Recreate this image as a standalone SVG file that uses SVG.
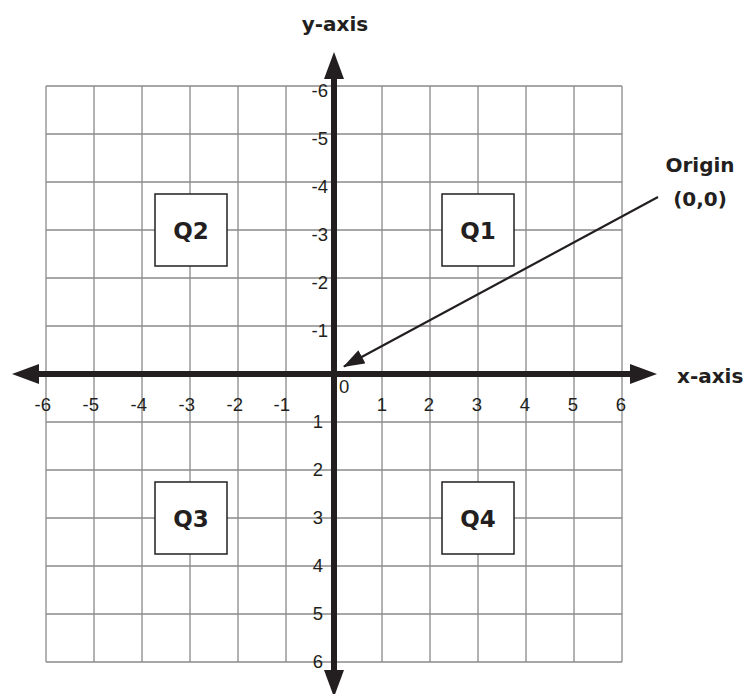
<svg xmlns="http://www.w3.org/2000/svg" width="747" height="694" viewBox="0 0 747 694">
<style>
.grid{stroke:#8a8a8a;stroke-width:1.3;fill:none}
.axis{stroke:#231f20;stroke-width:6;fill:none}
.pointer{stroke:#231f20;stroke-width:2.2;fill:none}
.lbl{font-family:"DejaVu Sans",sans-serif;font-weight:bold;font-size:20px;fill:#231f20}
.q{font-family:"DejaVu Sans",sans-serif;font-weight:bold;font-size:23px;fill:#231f20;text-anchor:middle}
.tick{font-family:"Liberation Sans",Arial,sans-serif;font-size:18.5px;fill:#231f20}
.box{fill:#fff;stroke:#231f20;stroke-width:1.5}
</style>
<defs>
<marker id="axhead" markerUnits="userSpaceOnUse" markerWidth="28" markerHeight="22" refX="0" refY="10" orient="auto-start-reverse" viewBox="0 0 28 20">
<path d="M0,0 L27,10 L0,20 z" fill="#231f20"/>
</marker>
<marker id="ptrhead" markerUnits="userSpaceOnUse" markerWidth="22" markerHeight="15" refX="19" refY="7" orient="auto" viewBox="0 0 20 14">
<path d="M0,0 L20,7 L0,14 z" fill="#231f20"/>
</marker>
</defs>
<rect width="747" height="694" fill="#fff"/>
<g id="grid">
<path class="grid" d="M46,86V662M94,86V662M142,86V662M190,86V662M238,86V662M286,86V662M382,86V662M430,86V662M478,86V662M526,86V662M574,86V662M622,86V662M46,86H622M46,134H622M46,182H622M46,230H622M46,278H622M46,326H622M46,422H622M46,470H622M46,518H622M46,566H622M46,614H622M46,662H622"/>
</g>
<g id="connectors">
<line class="axis" x1="334" y1="670" x2="334" y2="79" marker-start="url(#axhead)" marker-end="url(#axhead)"/>
<line class="axis" x1="39" y1="374" x2="630" y2="374" marker-start="url(#axhead)" marker-end="url(#axhead)"/>
<line class="pointer" x1="658" y1="197" x2="344" y2="366.5" marker-end="url(#ptrhead)"/>
</g>
<g id="Q1"><rect class="box" x="442" y="194" width="72" height="72"/><text class="q" x="478" y="239">Q1</text></g>
<g id="Q2"><rect class="box" x="155" y="194" width="72" height="72"/><text class="q" x="191" y="239">Q2</text></g>
<g id="Q3"><rect class="box" x="155" y="482" width="72" height="72"/><text class="q" x="191" y="527">Q3</text></g>
<g id="Q4"><rect class="box" x="442" y="482" width="72" height="72"/><text class="q" x="478" y="527">Q4</text></g>
<g id="labels">
<text class="lbl" x="335" y="31" text-anchor="middle">y-axis</text>
<text class="lbl" x="677" y="383">x-axis</text>
<text class="lbl" x="700" y="172" text-anchor="middle">Origin</text>
<text class="lbl" x="700" y="206" text-anchor="middle">(0,0)</text>
</g>
<g id="xticks" class="tick" text-anchor="end">
<text x="51" y="411">-6</text>
<text x="99" y="411">-5</text>
<text x="147" y="411">-4</text>
<text x="195" y="411">-3</text>
<text x="243" y="411">-2</text>
<text x="290" y="411">-1</text>
<text x="387" y="411">1</text>
<text x="434" y="411">2</text>
<text x="482" y="411">3</text>
<text x="530" y="411">4</text>
<text x="578" y="411">5</text>
<text x="626" y="411">6</text>
</g>
<g id="origin-tick" class="tick"><text x="339" y="393">0</text></g>
<g id="yticks" class="tick" text-anchor="end">
<text x="328" y="97">-6</text>
<text x="328" y="145">-5</text>
<text x="328" y="193">-4</text>
<text x="328" y="241">-3</text>
<text x="328" y="289">-2</text>
<text x="328" y="337">-1</text>
<text x="323" y="428">1</text>
<text x="323" y="476">2</text>
<text x="323" y="524">3</text>
<text x="323" y="572">4</text>
<text x="323" y="620">5</text>
<text x="323" y="668">6</text>
</g>
</svg>
